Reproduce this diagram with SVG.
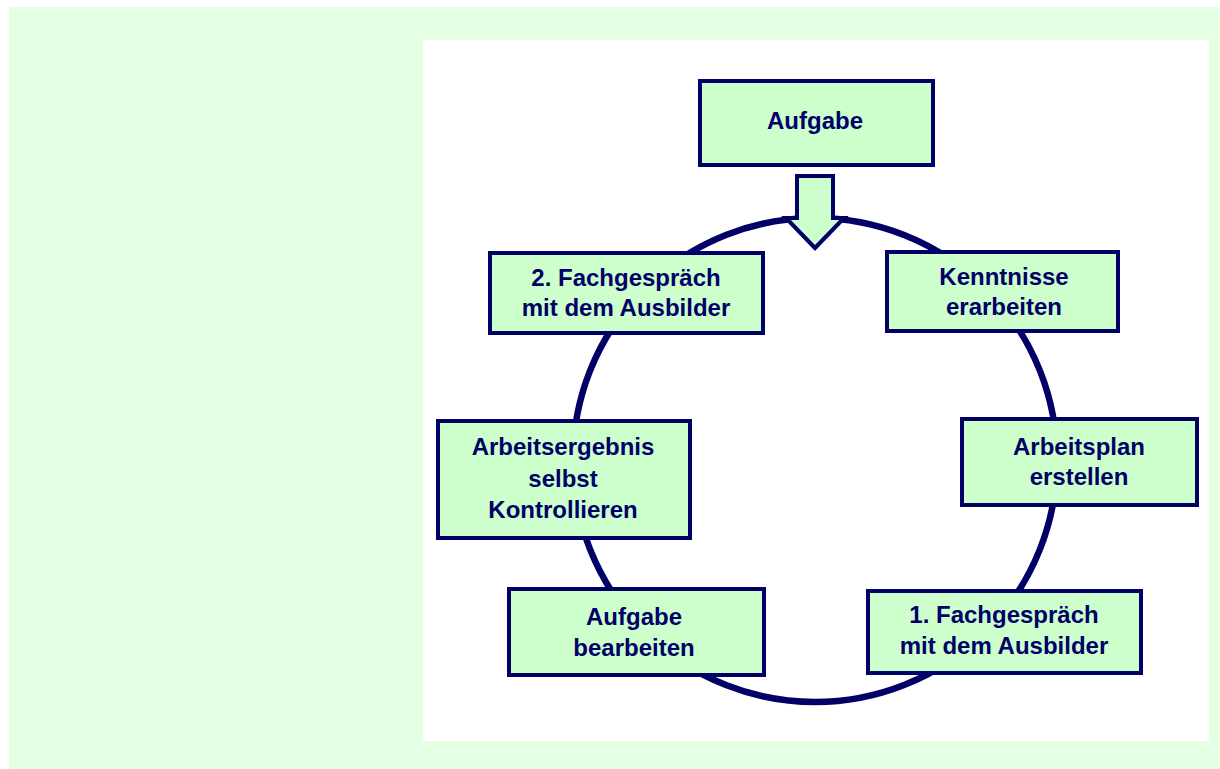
<svg xmlns="http://www.w3.org/2000/svg" width="1220" height="769" viewBox="0 0 1220 769">
<style>
.box{fill:#CCFFCC;stroke:#000066;stroke-width:4}
.t{font-family:"Liberation Sans",Arial,sans-serif;font-weight:bold;font-size:24px;fill:#000066;text-anchor:middle}
</style>
<rect x="0" y="0" width="1220" height="769" fill="#ffffff"/>
<rect x="9" y="7" width="1211" height="762" fill="#E5FFE5"/>
<rect x="423" y="40" width="786" height="701" fill="#ffffff"/>
<g id="connectors">
<circle cx="815" cy="460" r="242" fill="none" stroke="#000066" stroke-width="6.5"/>
<polygon points="797,176 833,176 833,218 844,218 815,248 786,218 797,218" fill="#CCFFCC" stroke="#000066" stroke-width="4" stroke-linejoin="miter"/>
</g>
<g id="aufgabe">
<rect class="box" x="700" y="81" width="233" height="84"/>
<text class="t" x="815" y="129">Aufgabe</text>
</g>
<g id="kenntnisse">
<rect class="box" x="887" y="252" width="231" height="79"/>
<text class="t" x="1004" y="285">Kenntnisse</text>
<text class="t" x="1004" y="315">erarbeiten</text>
</g>
<g id="arbeitsplan">
<rect class="box" x="962" y="419" width="235" height="86"/>
<text class="t" x="1079" y="455">Arbeitsplan</text>
<text class="t" x="1079" y="485">erstellen</text>
</g>
<g id="fachgespraech1">
<rect class="box" x="868" y="591" width="273" height="82"/>
<text class="t" x="1004" y="623">1. Fachgespräch</text>
<text class="t" x="1004" y="654">mit dem Ausbilder</text>
</g>
<g id="aufgabe-bearbeiten">
<rect class="box" x="509" y="589" width="255" height="86"/>
<text class="t" x="634" y="625">Aufgabe</text>
<text class="t" x="634" y="656">bearbeiten</text>
</g>
<g id="arbeitsergebnis">
<rect class="box" x="438" y="421" width="252" height="117"/>
<text class="t" x="563" y="455">Arbeitsergebnis</text>
<text class="t" x="563" y="487">selbst</text>
<text class="t" x="563" y="518">Kontrollieren</text>
</g>
<g id="fachgespraech2">
<rect class="box" x="490" y="253" width="273" height="80"/>
<text class="t" x="626" y="286">2. Fachgespräch</text>
<text class="t" x="626" y="316">mit dem Ausbilder</text>
</g>
</svg>
